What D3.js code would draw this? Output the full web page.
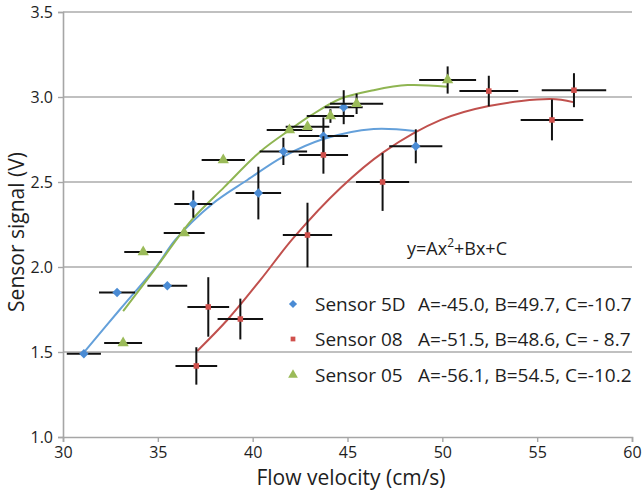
<!DOCTYPE html>
<html>
<head>
<meta charset="utf-8">
<script src="https://cdn.jsdelivr.net/npm/d3@7"></script>
<style>
  html, body { margin: 0; padding: 0; background: #fff; }
  svg text { font-family: "Open Sans", "Noto Sans", sans-serif; fill: #1e1e1e; }
</style>
</head>
<body>
<svg id="chart" width="644" height="491"></svg>
<script>
// 軸目盛り
const xTicks = [30, 35, 40, 45, 50, 55, 60];
const yTicks = [1.0, 1.5, 2.0, 2.5, 3.0, 3.5];

// Sensor 5D
const s5dX = [31.1, 32.85, 35.5, 36.87, 40.3, 41.62, 43.73, 44.8, 48.6];
const s5dY = [1.49, 1.85, 1.89, 2.37, 2.435, 2.68, 2.77, 2.94, 2.71];
const s5dXErr = [0.9, 0.95, 1.05, 1.0, 1.2, 1.25, 1.3, 1.0, 1.4];
const s5dYErr = [0, 0, 0, 0.08, 0.155, 0.08, 0.11, 0.1, 0.1];

// Sensor 08
const s08X = [37.03, 37.66, 39.35, 42.89, 43.73, 46.85, 52.45, 55.78, 56.94];
const s08Y = [1.418, 1.765, 1.694, 2.188, 2.659, 2.5, 3.035, 2.865, 3.04];
const s08XErr = [1.1, 1.1, 1.2, 1.3, 1.3, 1.4, 1.55, 1.65, 1.7];
const s08YErr = [0.11, 0.175, 0.12, 0.19, 0.11, 0.17, 0.09, 0.12, 0.1];

// Sensor 05
const s05X = [33.17, 34.23, 36.39, 38.45, 41.94, 42.89, 44.1, 45.48, 50.28];
const s05Y = [1.553, 2.088, 2.2, 2.63, 2.806, 2.825, 2.888, 2.96, 3.1];
const s05XErr = [1.0, 1.0, 1.08, 1.14, 1.2, 1.15, 1.25, 1.4, 1.5];
const s05YErr = [0, 0, 0, 0, 0, 0, 0.04, 0.06, 0.08];

// 近似曲線（図から読み取った点）
const fit5dX = [31.05, 33.0, 34.97, 35.92, 37.87, 39.72, 41.57, 43.73, 46.38, 48.54];
const fit5dY = [1.49, 1.75, 2.01, 2.16, 2.371, 2.512, 2.647, 2.753, 2.812, 2.8];
const fit08X = [37.08, 38.66, 40.41, 42.15, 44.63, 46.9, 49.92, 52.45, 55.73, 56.89];
const fit08Y = [1.506, 1.688, 1.924, 2.171, 2.465, 2.676, 2.865, 2.947, 2.988, 2.97];
const fit05X = [33.17, 35.0, 36.81, 38.5, 40.41, 42.0, 43.05, 44.63, 46.38, 48.17, 50.28];
const fit05Y = [1.74, 2.01, 2.28, 2.47, 2.68, 2.81, 2.89, 2.99, 3.04, 3.07, 3.06];

// 凡例
const legendNames = ["Sensor 5D", "Sensor 08", "Sensor 05"];
const legendCoefs = ["A=-45.0, B=49.7, C=-10.7", "A=-51.5, B=48.6, C= - 8.7", "A=-56.1, B=54.5, C=-10.2"];

// rot: 正方形を45°回して菱形にする
const series = [
  { x: s5dX, y: s5dY, xe: s5dXErr, ye: s5dYErr, fx: fit5dX, fy: fit5dY,
    marker: "#4a8bd4", line: "#64a0da", shape: d3.symbolSquare, size: 44, rot: 45 },
  { x: s08X, y: s08Y, xe: s08XErr, ye: s08YErr, fx: fit08X, fy: fit08Y,
    marker: "#d0504c", line: "#c0504d", shape: d3.symbolSquare, size: 30, rot: 0 },
  { x: s05X, y: s05Y, xe: s05XErr, ye: s05YErr, fx: fit05X, fy: fit05Y,
    marker: "#9bbb59", line: "#8fb552", shape: d3.symbolTriangle, size: 55, rot: 0 }
];

const svg = d3.select("#chart");
const x = d3.scaleLinear().domain([30, 60]).range([63, 632]);
const y = d3.scaleLinear().domain([1, 3.5]).range([437, 12]);

// グリッド線
svg.append("g")
  .selectAll("line")
  .data(yTicks.slice(1))
  .join("line")
  .attr("x1", x(30)).attr("x2", x(60))
  .attr("y1", d => y(d)).attr("y2", d => y(d))
  .attr("stroke", "#ababab")
  .attr("stroke-width", 1.6);

// 軸
const xAxis = svg.append("g")
  .attr("transform", `translate(0,${y(1)})`)
  .call(d3.axisBottom(x).tickValues(xTicks).tickSize(5).tickPadding(6).tickFormat(d3.format("d")));
const yAxis = svg.append("g")
  .attr("transform", `translate(${x(30)},0)`)
  .call(d3.axisLeft(y).tickValues(yTicks).tickSize(5).tickPadding(5).tickFormat(d3.format(".1f")));

[xAxis, yAxis].forEach(g => {
  g.select(".domain").attr("stroke", "#a6a6a6").attr("stroke-width", 1.6);
  g.selectAll(".tick line").attr("stroke", "#a6a6a6").attr("stroke-width", 1.4);
  g.selectAll(".tick text").attr("font-size", 16).attr("fill", "#1e1e1e")
    .style("font-family", '"Open Sans", sans-serif');
});
xAxis.selectAll(".tick text").attr("dy", "0.6em");

// 近似曲線
const lineGen = d3.line()
  .x(d => x(d[0]))
  .y(d => y(d[1]))
  .curve(d3.curveCatmullRom.alpha(0.5));
series.forEach(s => {
  svg.append("path")
    .datum(s.fx.map((v, i) => [v, s.fy[i]]))
    .attr("d", lineGen)
    .attr("fill", "none")
    .attr("stroke", s.line)
    .attr("stroke-width", 2);
});

// エラーバーとマーカー
series.forEach(s => {
  const pts = s.x.map((v, i) => ({ x: v, y: s.y[i], xe: s.xe[i], ye: s.ye[i] }));
  const g = svg.append("g");
  g.selectAll("line.xe").data(pts).join("line")
    .attr("x1", d => x(d.x - d.xe)).attr("x2", d => x(d.x + d.xe))
    .attr("y1", d => y(d.y)).attr("y2", d => y(d.y))
    .attr("stroke", "#111").attr("stroke-width", 2);
  g.selectAll("line.ye").data(pts.filter(d => d.ye > 0)).join("line")
    .attr("x1", d => x(d.x)).attr("x2", d => x(d.x))
    .attr("y1", d => y(d.y - d.ye)).attr("y2", d => y(d.y + d.ye))
    .attr("stroke", "#111").attr("stroke-width", 2);
  g.selectAll("path").data(pts).join("path")
    .attr("d", d3.symbol().type(s.shape).size(s.size))
    .attr("transform", d => `translate(${x(d.x)},${y(d.y)}) rotate(${s.rot})`)
    .attr("fill", s.marker);
});

// 凡例
svg.append("text")
  .attr("x", 407).attr("y", 255)
  .attr("font-size", 18)
  .call(t => {
    t.append("tspan").text("y=Ax");
    t.append("tspan").attr("font-size", 12).attr("dy", -8).text("2");
    t.append("tspan").attr("dy", 8).text("+Bx+C");
  });

const legendY = [304, 339, 375];
series.forEach((s, i) => {
  svg.append("path")
    .attr("d", d3.symbol().type(s.shape).size(s.size * 0.75))
    .attr("transform", `translate(293,${legendY[i]}) rotate(${s.rot})`)
    .attr("fill", s.marker);
  svg.append("text")
    .attr("x", 315).attr("y", legendY[i] + 7)
    .attr("font-size", 19)
    .text(legendNames[i]);
  svg.append("text")
    .attr("x", 418).attr("y", legendY[i] + 7)
    .attr("font-size", 19)
    .text(legendCoefs[i]);
});

// 軸タイトル
svg.append("text")
  .attr("x", 351).attr("y", 485)
  .attr("text-anchor", "middle")
  .attr("font-size", 21)
  .text("Flow velocity (cm/s)");
svg.append("text")
  .attr("transform", "translate(24,232) rotate(-90)")
  .attr("text-anchor", "middle")
  .attr("font-size", 21)
  .text("Sensor signal (V)");
</script>
</body>
</html>
